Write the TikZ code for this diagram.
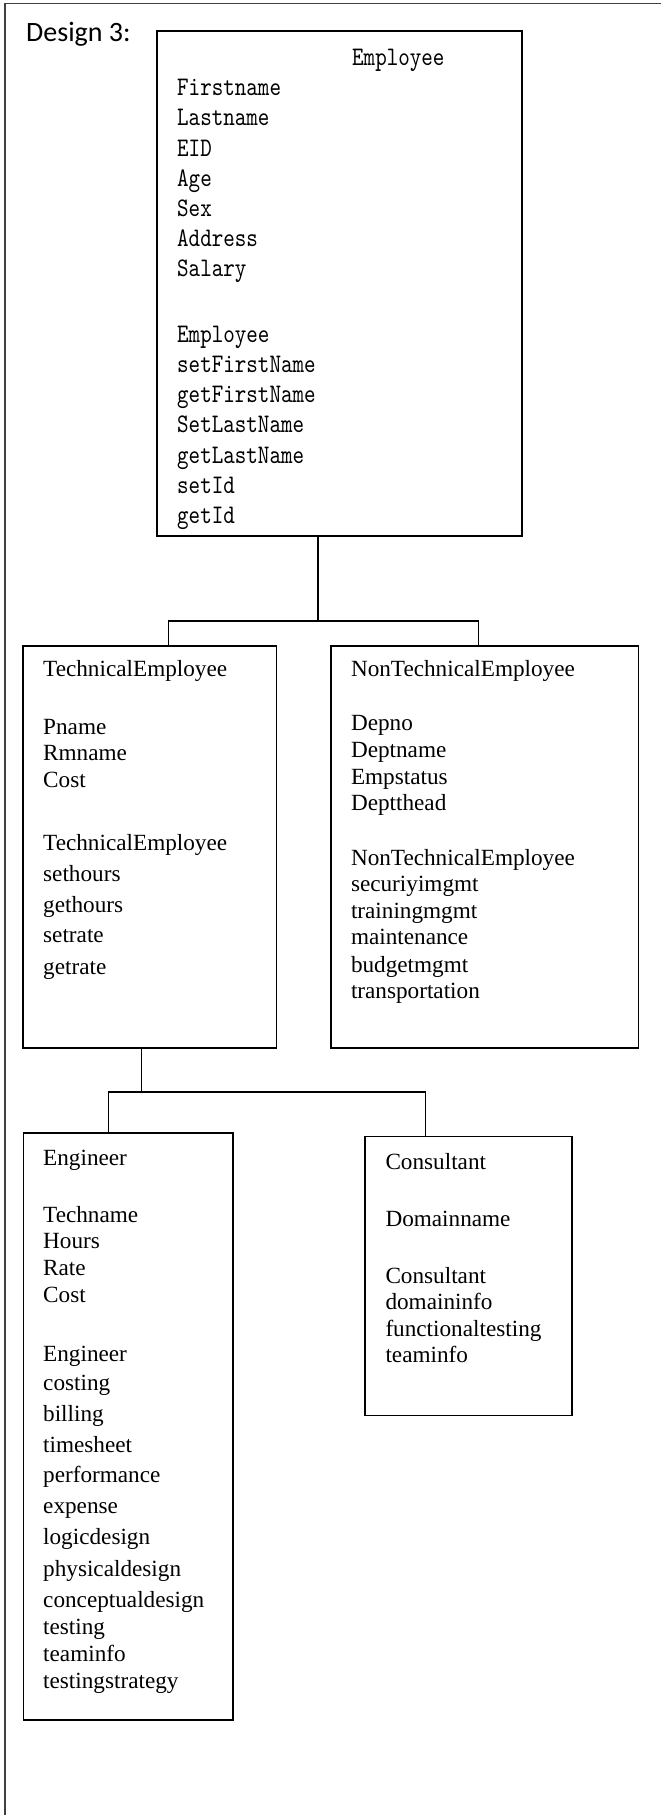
\documentclass[tikz,border=0pt]{standalone}
\usepackage{fontspec}
\setmainfont{Liberation Serif}
\newfontfamily\calfont{Carlito}
\newfontfamily\monofont[FakeStretch=0.82]{lmmono10-regular.otf}
\begin{document}
\begin{tikzpicture}[x=1pt,y=-1pt,
  box/.style={draw, line width=1.3pt, rectangle, inner sep=0pt},
  conn/.style={line width=1.3pt},
  frame/.style={line width=1.5pt, black!75},
  mono/.style={anchor=base west, inner sep=0pt, font=\monofont\fontsize{26.8}{30}\selectfont},
  serif/.style={anchor=base west, inner sep=0pt, font=\fontsize{23.2}{26}\selectfont},
  title/.style={anchor=base west, inner sep=0pt, font=\calfont\fontsize{28}{32}\selectfont},
]
\useasboundingbox (0,0) rectangle (661,1815);
\draw[frame] (5,1815) -- (5,3.5) -- (661,3.5);
\node[title] (design) at (26,41) {Design 3:};

% boxes
\node[box, minimum width=365pt, minimum height=505pt] (emp) at (339.5,283.5) {};
\node[box, minimum width=253.6pt, minimum height=402pt] (te) at (149.8,847) {};
\node[box, minimum width=307.7pt, minimum height=402pt] (nte) at (484.85,847) {};
\node[box, minimum width=209.8pt, minimum height=587pt] (eng) at (128.1,1426.5) {};
\node[box, minimum width=207pt, minimum height=279.1pt] (con) at (468.5,1276.25) {};

% connectors
\coordinate (j1) at (318,621);
\coordinate (j1l) at (168.6,621);
\coordinate (j1r) at (478.5,621);
\draw[conn] (emp.south -| j1) -- (j1);
\draw[conn] (te.north -| j1l) -- (j1l) -- (j1r) -- (nte.north -| j1r);
\coordinate (j2) at (141.6,1092);
\coordinate (j2l) at (108.8,1092);
\coordinate (j2r) at (425.8,1092);
\draw[conn] (te.south -| j2) -- (j2);
\draw[conn] (eng.north -| j2l) -- (j2l) -- (j2r) -- (con.north -| j2r);

% Employee texts
\node[mono] (empT) at (352,65.4) {Employee};
\foreach \ty/\tx [count=\i] in {95.7/Firstname, 125.9/Lastname, 156.1/EID, 186.3/Age, 216.5/Sex, 246.7/Address, 276.9/Salary, 342/Employee, 372.3/setFirstName, 402.5/getFirstName, 432.8/SetLastName, 463/getLastName, 493.3/setId, 523.5/getId}
  \node[mono, name=ea\i] at (177,\ty) {\tx};

% TechnicalEmployee texts
\foreach \ty/\tx [count=\i] in {676.8/TechnicalEmployee, 734/Pname, 760.7/Rmname, 787.5/Cost, 850/TechnicalEmployee, 881.4/sethours, 912.5/gethours, 942.9/setrate, 974/getrate}
  \node[serif, name=ta\i] at (43,\ty) {\tx};

% NonTechnicalEmployee texts
\foreach \ty/\tx [count=\i] in {676.8/NonTechnicalEmployee, 730/Depno, 757/Deptname, 784/Empstatus, 810.7/Deptthead, 865/NonTechnicalEmployee, 891.8/securiyimgmt, 918.6/trainingmgmt, 944.6/maintenance, 972/budgetmgmt, 998/transportation}
  \node[serif, name=na\i] at (350.8,\ty) {\tx};

% Engineer texts
\foreach \ty/\tx [count=\i] in {1165/Engineer, 1222.5/Techname, 1248.4/Hours, 1275.5/Rate, 1302.5/Cost, 1361/Engineer, 1390.9/costing, 1421/billing, 1452/timesheet, 1482/performance, 1513.5/expense, 1544.7/logicdesign, 1576/physicaldesign, 1607/conceptualdesign, 1634/testing, 1661/teaminfo, 1688.7/testingstrategy}
  \node[serif, name=ga\i] at (43,\ty) {\tx};

% Consultant texts
\foreach \ty/\tx [count=\i] in {1169/Consultant, 1226/Domainname, 1283/Consultant, 1309/domaininfo, 1336.8/functionaltesting, 1362/teaminfo}
  \node[serif, name=ca\i] at (385.3,\ty) {\tx};
\end{tikzpicture}
\end{document}
